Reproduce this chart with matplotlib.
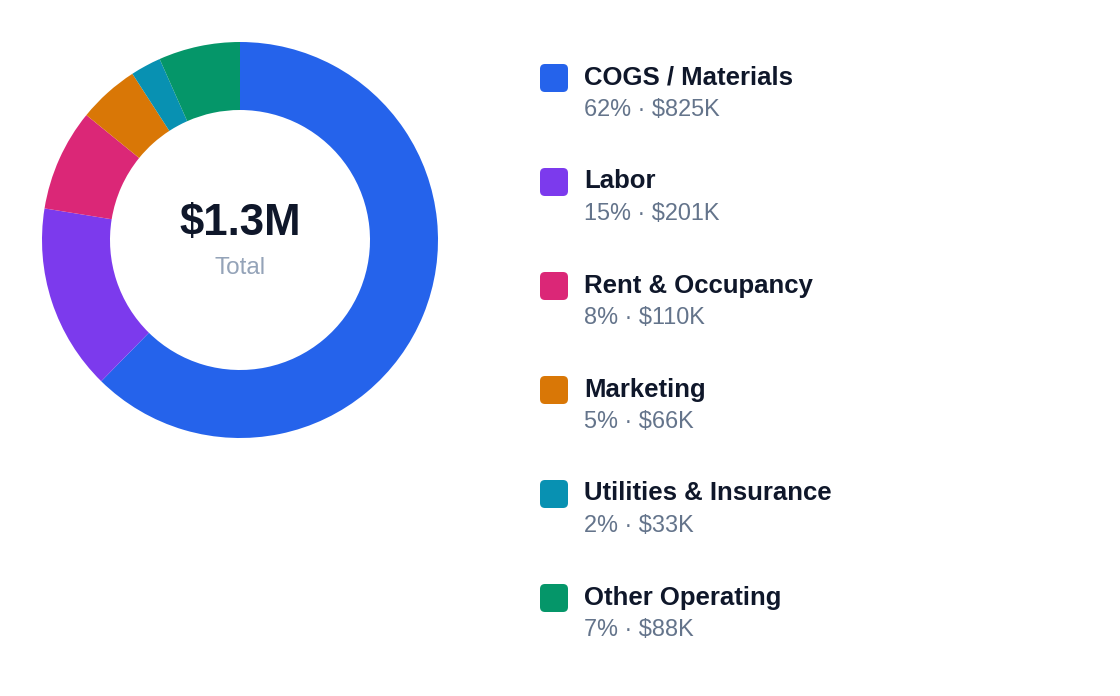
import matplotlib
matplotlib.use("Agg")
import matplotlib.pyplot as plt
from matplotlib.patches import FancyBboxPatch

categories = ["COGS / Materials", "Labor", "Rent & Occupancy", "Marketing",
              "Utilities & Insurance", "Other Operating"]
values_k = [825, 201, 110, 66, 33, 88]
percents = [62, 15, 8, 5, 2, 7]
colors = ["#2563EB", "#7C3AED", "#DB2777", "#D97706", "#0891B2", "#059669"]
total_label = "$1.3M"
total_caption = "Total"

W, H = 1120, 696
DPI = 100
plt.rcParams['font.family'] = ['Liberation Sans', 'DejaVu Sans']

fig = plt.figure(figsize=(W / DPI, H / DPI), dpi=DPI)
fig.patch.set_facecolor("white")

# Donut axes: center (240,240) px, outer radius 198 px
cx, cy, R = 240, 240, 198
ax = fig.add_axes([(cx - R) / W, (H - cy - R) / H, 2 * R / W, 2 * R / H])
ax.pie(values_k, colors=colors, startangle=90, counterclock=False,
       radius=1.0, wedgeprops=dict(width=68 / 198, linewidth=0))
ax.set_xlim(-1, 1)
ax.set_ylim(-1, 1)
ax.set_aspect("equal")
ax.axis("off")

# Legend / label overlay in pixel coordinates
lg = fig.add_axes([0, 0, 1, 1])
lg.set_xlim(0, W)
lg.set_ylim(H, 0)
lg.axis("off")
lg.patch.set_alpha(0)

lg.text(cx, 235.5, total_label, ha="center", va="baseline", fontsize=31.5,
        fontweight="bold", color="#0F172A")
lg.text(cx, 274.5, total_caption, ha="center", va="baseline", fontsize=17.5,
        color="#94A3B8")

y0, step = 78, 104
for i, (name, pct, val, col) in enumerate(zip(categories, percents, values_k, colors)):
    y = y0 + i * step
    sq = FancyBboxPatch((540 + 5, y - 14 + 5), 28 - 10, 28 - 10,
                        boxstyle="round,pad=5", facecolor=col, edgecolor="none")
    lg.add_patch(sq)
    lg.text(584, y + 6.5, name, ha="left", va="baseline", fontsize=18.5,
            fontweight="bold", color="#0F172A")
    lg.text(584, y + 37.5, f"{pct}% \u00b7 ${val}K", ha="left", va="baseline",
            fontsize=16.9, color="#64748B")

fig.savefig("out.png", dpi=DPI, facecolor="white")
